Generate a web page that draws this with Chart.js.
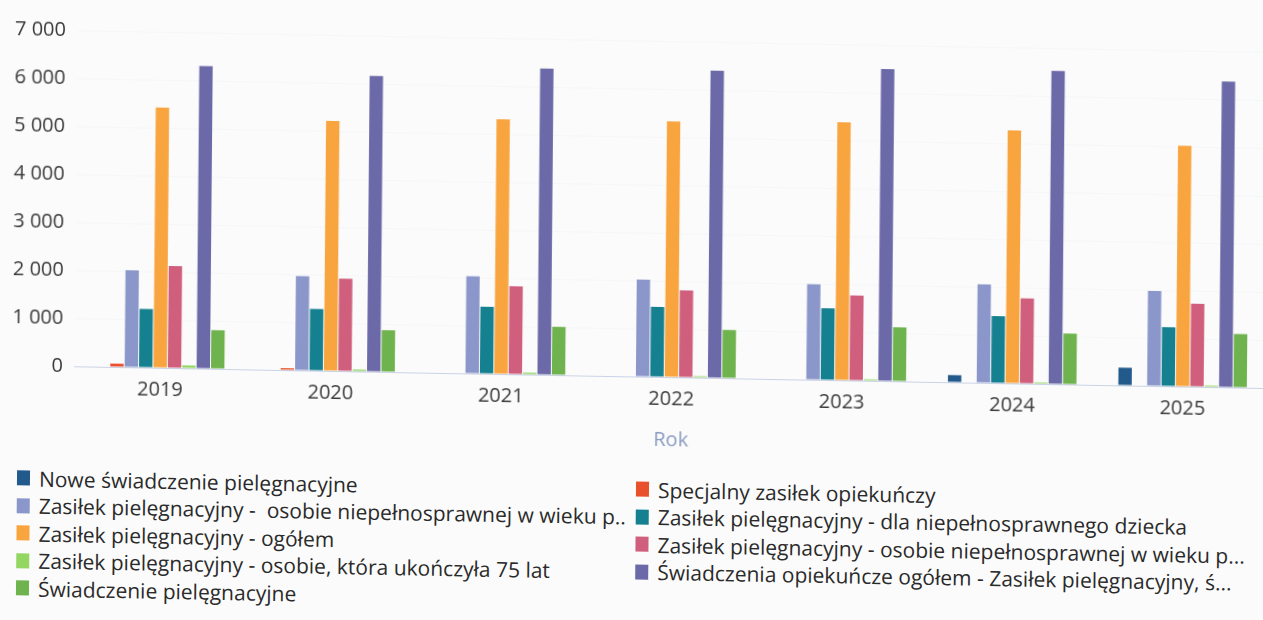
<!DOCTYPE html>
<html lang="pl">
<head>
<meta charset="utf-8">
<script src="https://cdn.jsdelivr.net/npm/chart.js@4.4.1/dist/chart.umd.min.js"></script>
<style>
html,body{margin:0;padding:0;width:1263px;height:620px;overflow:hidden;background:#fbfbfb;font-family:"Open Sans",sans-serif;}
#stage{position:absolute;left:0;top:0;width:1280px;height:620px;transform-origin:60px 366px;transform:matrix(1,0.0183,-0.009,1,0,0);}
#wrap{position:absolute;left:0;top:0;width:1280px;height:441px;}
#legend{position:absolute;left:18px;top:465px;display:grid;grid-template-columns:619px auto;grid-auto-rows:27.5px;font-size:21px;color:#2a2a2a;}
.item{display:flex;align-items:center;white-space:pre;}
.box{width:13px;height:15px;margin-right:9px;flex:none;}
</style>
</head>
<body>
<div id="stage">
  <div id="wrap"><canvas id="c" width="1280" height="441"></canvas></div>
  <div id="legend"></div>
</div>
<script>
// ---- data ----
const years = ['2019','2020','2021','2022','2023','2024','2025'];
const yTickLabels = ['0','1 000','2 000','3 000','4 000','5 000','6 000','7 000'];
const xAxisTitle = 'Rok';

const seriesNames = [
  'Nowe świadczenie pielęgnacyjne',
  'Specjalny zasiłek opiekuńczy',
  'Zasiłek pielęgnacyjny -  osobie niepełnosprawnej w wieku p..',
  'Zasiłek pielęgnacyjny - dla niepełnosprawnego dziecka',
  'Zasiłek pielęgnacyjny - ogółem',
  'Zasiłek pielęgnacyjny - osobie niepełnosprawnej w wieku p...',
  'Zasiłek pielęgnacyjny - osobie, która ukończyła 75 lat',
  'Świadczenia opiekuńcze ogółem - Zasiłek pielęgnacyjny, ś...',
  'Świadczenie pielęgnacyjne'
];

const noweSwiadczenie      = [0, 0, 0, 0, 0, 150, 370];
const specjalnyZasilek     = [70, 40, 0, 0, 0, 0, 0];
const zpNiepelnosprawnaA   = [2020, 1965, 2025, 2020, 1990, 2050, 1980];
const zpDziecko            = [1220, 1285, 1395, 1460, 1495, 1395, 1230];
const zpOgolem             = [5420, 5210, 5305, 5330, 5375, 5270, 5015];
const zpNiepelnosprawnaB   = [2125, 1925, 1835, 1810, 1770, 1775, 1730];
const zp75lat              = [60, 40, 40, 30, 30, 30, 30];
const opiekunczeOgolem     = [6300, 6160, 6380, 6400, 6500, 6525, 6370];
const swiadczeniePiel      = [805, 870, 1005, 1005, 1125, 1060, 1115];

// ---- styles ----
const seriesColors = ['#235a8c','#e8512b','#8b97ca','#15808f','#f9a53f','#cf5f7d','#93d662','#6b69a8','#6eb34d'];
const seriesValues = [noweSwiadczenie, specjalnyZasilek, zpNiepelnosprawnaA, zpDziecko, zpOgolem,
                      zpNiepelnosprawnaB, zp75lat, opiekunczeOgolem, swiadczeniePiel];

const tickFont = {family:'"Open Sans", sans-serif', size:20};
const tickColor = '#3a3a3a';

const chart = new Chart(document.getElementById('c'), {
  type: 'bar',
  data: {
    labels: years,
    datasets: seriesNames.map((name, i) => ({
      label: name,
      data: seriesValues[i],
      backgroundColor: seriesColors[i],
      borderWidth: 0,
      categoryPercentage: 0.76,
      barPercentage: 0.93
    }))
  },
  options: {
    responsive: false,
    animation: false,
    layout: {padding: {left: 0, right: 12, top: 30, bottom: 0}},
    plugins: {legend: {display: false}, tooltip: {enabled: false}},
    scales: {
      x: {
        grid: {display: false, drawTicks: false},
        border: {display: true, color: '#c9d3e6', width: 1},
        ticks: {color: tickColor, font: tickFont, padding: 10},
        title: {display: true, text: xAxisTitle, color: '#8a9cc0', font: tickFont, padding: {top: 7, bottom: 0}}
      },
      y: {
        min: 0, max: 7000,
        grid: {color: '#f5f6f8', drawTicks: false},
        border: {display: false},
        ticks: {
          stepSize: 1000, padding: 12, color: tickColor, font: tickFont,
          callback: v => yTickLabels[Math.round(v / 1000)]
        }
      }
    }
  }
});

// HTML legend built from the chart's datasets
const legend = document.getElementById('legend');
chart.data.datasets.forEach(ds => {
  const item = document.createElement('div');
  item.className = 'item';
  const box = document.createElement('span');
  box.className = 'box';
  box.style.background = ds.backgroundColor;
  const txt = document.createElement('span');
  txt.textContent = ds.label;
  item.appendChild(box);
  item.appendChild(txt);
  legend.appendChild(item);
});
</script>
</body>
</html>
